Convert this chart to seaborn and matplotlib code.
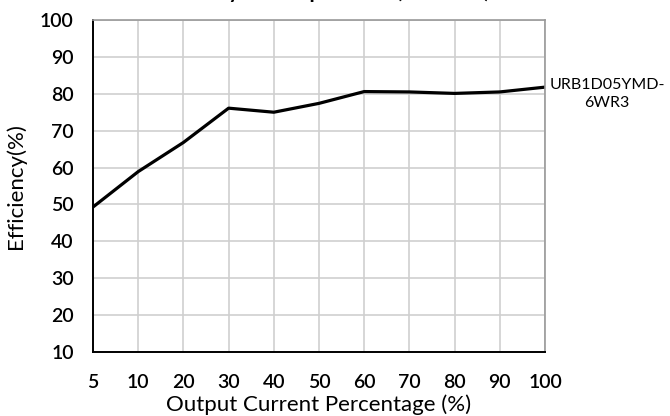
import matplotlib
matplotlib.use("Agg")
import matplotlib.pyplot as plt
import seaborn as sns
import pandas as pd

# Data
load_labels = ["5", "10", "20", "30", "40", "50", "60", "70", "80", "90", "100"]
efficiency = [49.3, 58.9, 66.8, 76.1, 75.0, 77.4, 80.6, 80.5, 80.1, 80.5, 81.8]
series_name = "URB1D05YMD-\n6WR3"
y_ticks = [10, 20, 30, 40, 50, 60, 70, 80, 90, 100]
title_text = "Efficiency Vs Output Load (Vin=24V)"

df = pd.DataFrame({"load": load_labels, "eff": efficiency})

sns.set_theme(style="white")
plt.rcParams["font.family"] = ["Lato", "DejaVu Sans"]

fig = plt.figure(figsize=(6.7, 4.16), dpi=100)
ax = fig.add_axes([93 / 670, 1 - 352 / 416, (545 - 93) / 670, (352 - 20) / 416])

sns.lineplot(data=df, x="load", y="eff", ax=ax, color="black", linewidth=2.3, sort=False)

ax.set_xlim(0, len(load_labels) - 1)
ax.set_ylim(10, 100)
ax.set_yticks(y_ticks)
ax.set_xticks(range(len(load_labels)))
ax.set_xticklabels(load_labels)
ax.grid(True, color="#cfcfcf", linewidth=1.2)
ax.set_axisbelow(True)

for s in ["top", "right"]:
    ax.spines[s].set_color("#999999")
    ax.spines[s].set_linewidth(1.2)
for s in ["left", "bottom"]:
    ax.spines[s].set_color("black")
    ax.spines[s].set_linewidth(1.4)

ax.tick_params(axis="both", direction="in", length=5, width=1.2, color="black",
               labelsize=14, labelcolor="black")
ax.tick_params(axis="x", pad=16)
ax.tick_params(axis="y", pad=14)
for lab in ax.get_xticklabels() + ax.get_yticklabels():
    lab.set_fontweight("semibold")

ax.set_xlabel("Output Current Percentage (%)", fontsize=16, color="black", labelpad=2)
ax.set_ylabel("Efficiency(%)", fontsize=16, color="black", labelpad=10)

fig.text(607 / 670, 1 - 94 / 416, series_name, ha="center", va="center",
         fontsize=11.5, color="black", linespacing=1.45)

fig.text(319 / 670, 1 + 2.5 / 416, title_text, ha="center", va="baseline",
         fontsize=15, fontweight="bold", color="black")

fig.savefig("out.png", dpi=100)
